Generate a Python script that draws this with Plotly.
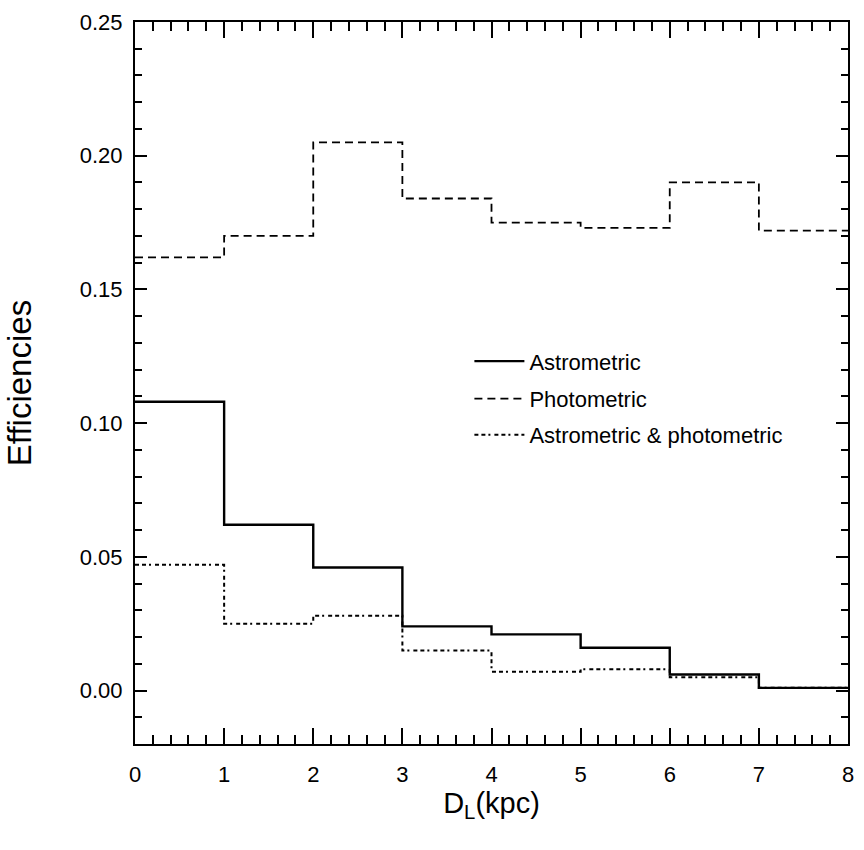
import plotly.graph_objects as go

bin_edges = [0, 1, 2, 3, 4, 5, 6, 7, 8]
astrometric = [0.108, 0.062, 0.046, 0.024, 0.021, 0.016, 0.006, 0.001]
photometric = [0.162, 0.170, 0.205, 0.184, 0.175, 0.173, 0.190, 0.172]
combined = [0.047, 0.025, 0.028, 0.015, 0.007, 0.008, 0.005, 0.001]
y_ticks = [0.00, 0.05, 0.10, 0.15, 0.20, 0.25]
x_ticks = [0, 1, 2, 3, 4, 5, 6, 7, 8]

font = "Liberation Sans, Arial, sans-serif"

def step_y(vals):
    return list(vals) + [vals[-1]]

series = [
    ("Astrometric", astrometric, dict(color="black", width=2.4), "legend"),
    ("Photometric", photometric, dict(color="black", width=1.8, dash="8px,5px"), "legend2"),
    ("Astrometric & photometric", combined, dict(color="black", width=2, dash="4px,3px,4px,3px,2px,4px"), "legend3"),
]

fig = go.Figure()
for name, vals, line, leg in series:
    fig.add_trace(go.Scatter(x=bin_edges, y=step_y(vals), mode="lines", line_shape="hv",
                             name=name, line=line, legend=leg))

axis_common = dict(showgrid=False, zeroline=False, showline=True, linecolor="black", linewidth=2,
                   mirror="ticks", ticks="inside", tickcolor="black", tickwidth=2, automargin=False,
                   tickfont=dict(family=font, size=22, color="black"))

fig.update_xaxes(range=[0, 8], tickvals=x_ticks, ticktext=[str(v) for v in x_ticks], ticklen=16,
                 ticklabelstandoff=10,
                 minor=dict(dtick=0.2, ticks="inside", ticklen=9, tickcolor="black", tickwidth=2, showgrid=False),
                 title=dict(text="D<sub>L</sub>(kpc)", font=dict(family=font, size=29, color="black"), standoff=3),
                 **axis_common)
fig.update_yaxes(range=[-0.02, 0.25], tickvals=y_ticks, ticktext=[f"{v:.2f}" for v in y_ticks], ticklen=12,
                 ticklabelstandoff=6,
                 minor=dict(dtick=0.01, ticks="inside", ticklen=7, tickcolor="black", tickwidth=2, showgrid=False),
                 title=dict(text="Efficiencies", font=dict(family=font, size=33, color="black"), standoff=38),
                 **axis_common)

leg_common = dict(x=0.469, xanchor="left", yanchor="middle", bgcolor="rgba(0,0,0,0)",
                  font=dict(family=font, size=22, color="black"), itemwidth=50)
fig.update_layout(
    width=864, height=850,
    margin=dict(l=135, r=16, t=22, b=106),
    plot_bgcolor="white", paper_bgcolor="white",
    showlegend=True,
    legend=dict(y=0.530, **leg_common),
    legend2=dict(y=0.478, **leg_common),
    legend3=dict(y=0.428, **leg_common),
)

fig.write_html("out.html")
